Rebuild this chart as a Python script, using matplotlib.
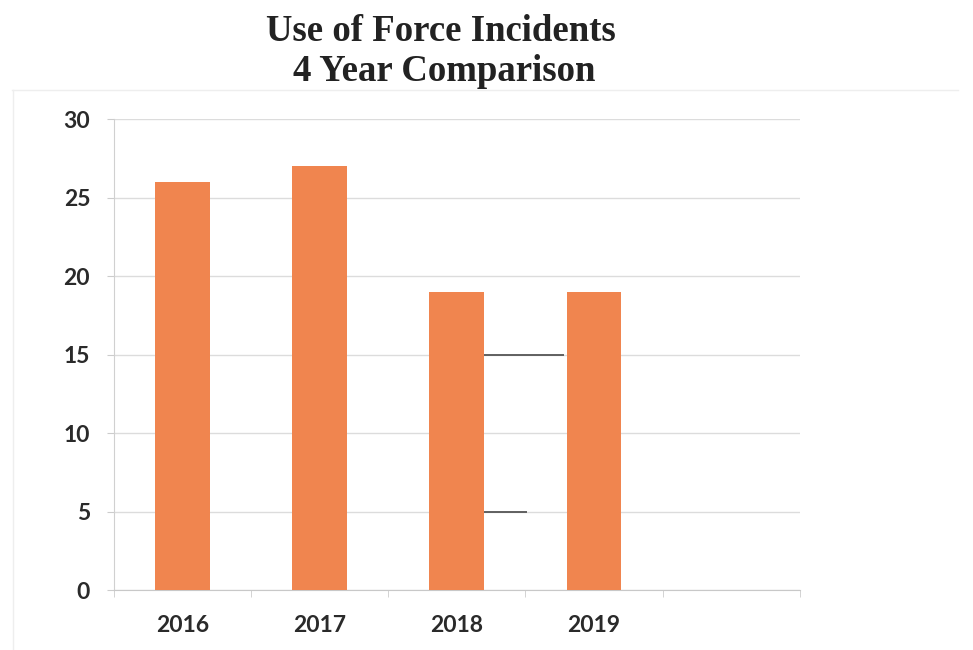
import numpy as np
import matplotlib
matplotlib.use("Agg")
import matplotlib.pyplot as plt

years = ["2016", "2017", "2018", "2019"]
incidents = [26, 27, 19, 19]
n_slots = 5  # the chart leaves one empty category slot on the right

fig = plt.figure(figsize=(9.73, 6.5), dpi=100)
ax = fig.add_axes([0.117, 0.0923, 0.705, 0.7246])

x = np.arange(len(years))
ax.bar(x, incidents, width=0.4, color="#F0854F", zorder=3)

ax.set_xlim(-0.5, n_slots - 0.5)
ax.set_ylim(0, 30)
ax.set_yticks(range(0, 31, 5))
ax.set_xticks(x)
ax.set_xticklabels(years)
ax.set_xticks(np.arange(-0.5, n_slots, 1), minor=True)

ax.grid(axis="y", color="#dcdcdc", linewidth=1, zorder=0)
ax.tick_params(axis="x", which="major", length=0, pad=18)
ax.tick_params(axis="x", which="minor", length=5, color="#cccccc")
ax.tick_params(axis="y", length=5, color="#cccccc", pad=12)
for lab in ax.get_xticklabels() + ax.get_yticklabels():
    lab.set_fontfamily("Lato")
    lab.set_fontweight("bold")
    lab.set_fontsize(16.5)
    lab.set_color("#2a2a2a")

for side in ["top", "right"]:
    ax.spines[side].set_visible(False)
ax.spines["left"].set_color("#d0d0d0")
ax.spines["bottom"].set_color("#c8c8c8")

# dark scan marks on a couple of gridlines
ax.hlines(15, 2.19, 2.78, color="#555555", linewidth=1.3, zorder=2)
ax.hlines(5, 2.19, 2.51, color="#555555", linewidth=1.3, zorder=2)

# faint frame of the original chart box
fig.add_artist(plt.Line2D([0.012, 0.985], [0.862, 0.862], color="#eeeeee", linewidth=1))
fig.add_artist(plt.Line2D([0.013, 0.013], [0.0, 0.862], color="#eeeeee", linewidth=1))

fig.text(0.453, 0.952, "Use of Force Incidents", ha="center", va="center",
         fontfamily="Liberation Serif", fontweight="bold", fontsize=26.5, color="#222222")
fig.text(0.456, 0.890, "4 Year Comparison", ha="center", va="center",
         fontfamily="Liberation Serif", fontweight="bold", fontsize=26.5, color="#222222")

fig.savefig("out.png", dpi=100)
